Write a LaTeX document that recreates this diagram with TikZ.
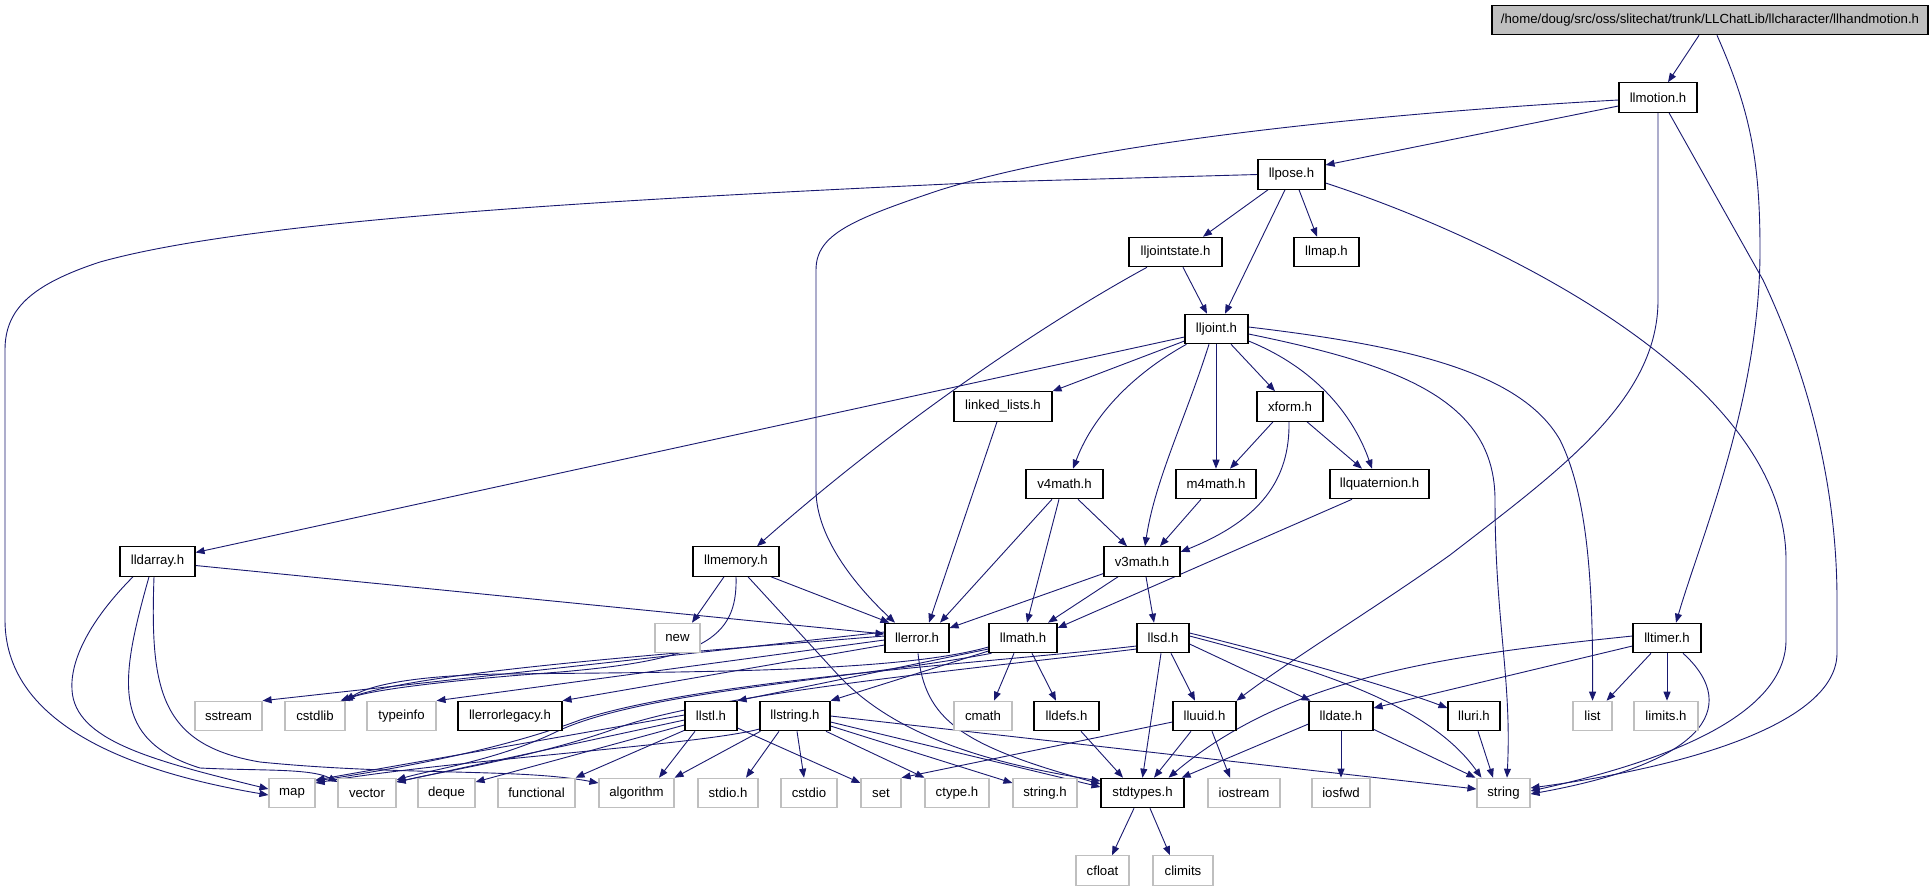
\documentclass[tikz,border=0pt]{standalone}
\usepackage{fontspec}
\setmainfont{Liberation Sans}
\usetikzlibrary{arrows.meta,calc}
\definecolor{edgec}{HTML}{191970}
\definecolor{grayb}{HTML}{BFBFBF}
\pgfdeclarelayer{bg}
\pgfsetlayers{bg,main}
\tikzset{
 basebox/.style={draw, inner sep=0pt, minimum height=29.5pt, font=\fontsize{13.2}{15}\selectfont, fill=white, line width=1.1pt},
 pbox/.style={basebox, draw=black},
 sbox/.style={basebox, draw=grayb},
 rootbox/.style={basebox, draw=black, fill=grayb},
 dep/.style={draw=edgec, line width=0.9pt, -{Triangle[length=9pt,width=7pt,fill=edgec]}},
}
\newcommand\mkn[5]{\node[#1, minimum width=#4pt] (#2) at (#3) {#5};}
\begin{document}
\begin{tikzpicture}[x=1pt,y=-1pt]
\useasboundingbox (0,0) rectangle (1932,891);
% nodes
\mkn{rootbox}{top}{1710,20}{436}{/home/doug/src/oss/slitechat/trunk/LLChatLib/llcharacter/llhandmotion.h}
\mkn{pbox}{llmotion}{1658,97.5}{78}{llmotion.h}
\mkn{pbox}{llpose}{1291.5,174.5}{67}{llpose.h}
\mkn{pbox}{lljointstate}{1175.5,252}{93}{lljointstate.h}
\mkn{pbox}{llmap}{1326.5,252}{65}{llmap.h}
\mkn{pbox}{lljoint}{1216.5,329}{63}{lljoint.h}
\mkn{pbox}{linked}{1003,406.5}{98}{linked\_lists.h}
\mkn{pbox}{xform}{1290,406.5}{66}{xform.h}
\mkn{pbox}{v4math}{1064.5,484}{77}{v4math.h}
\mkn{pbox}{m4math}{1216,484}{80}{m4math.h}
\mkn{pbox}{llquat}{1379.5,484}{99}{llquaternion.h}
\mkn{pbox}{lldarray}{157.5,561.5}{75}{lldarray.h}
\mkn{pbox}{llmemory}{736,561.5}{86}{llmemory.h}
\mkn{pbox}{v3math}{1142,561.5}{76}{v3math.h}
\mkn{pbox}{lltimer}{1667,638}{68}{lltimer.h}
\mkn{sbox}{new}{677.5,638}{45}{new}
\mkn{pbox}{llerror}{917,638}{64}{llerror.h}
\mkn{pbox}{llmath}{1023,638}{68}{llmath.h}
\mkn{pbox}{llsd}{1163,638}{52}{llsd.h}
\mkn{sbox}{sstream}{228.5,716}{67}{sstream}
\mkn{sbox}{cstdlib}{315,716}{60}{cstdlib}
\mkn{sbox}{typeinfo}{401.5,716}{69}{typeinfo}
\mkn{pbox}{llerrorlegacy}{510,716}{104}{llerrorlegacy.h}
\mkn{pbox}{llstl}{711,716}{52}{llstl.h}
\mkn{pbox}{llstring}{795,716}{70}{llstring.h}
\mkn{sbox}{cmath}{983,716}{58}{cmath}
\mkn{pbox}{lldefs}{1066.5,716}{65}{lldefs.h}
\mkn{pbox}{lluuid}{1204.5,716}{63}{lluuid.h}
\mkn{pbox}{lldate}{1341,716}{64}{lldate.h}
\mkn{pbox}{lluri}{1474,716}{52}{lluri.h}
\mkn{sbox}{list}{1592.5,716}{39}{list}
\mkn{sbox}{limits}{1666,716}{64}{limits.h}
\mkn{sbox}{map}{292,793}{46}{map}
\mkn{sbox}{vector}{367,793}{58}{vector}
\mkn{sbox}{deque}{446.5,793}{57}{deque}
\mkn{sbox}{functional}{536.5,793}{77}{functional}
\mkn{sbox}{algorithm}{636.5,793}{75}{algorithm}
\mkn{sbox}{stdio}{728,793}{60}{stdio.h}
\mkn{sbox}{cstdio}{809,793}{56}{cstdio}
\mkn{sbox}{set}{881,793}{40}{set}
\mkn{sbox}{ctype}{957,793}{64}{ctype.h}
\mkn{sbox}{stringh}{1045,793}{64}{string.h}
\mkn{pbox}{stdtypes}{1142.5,793}{83}{stdtypes.h}
\mkn{sbox}{iostream}{1244,793}{72}{iostream}
\mkn{sbox}{iosfwd}{1341,793}{58}{iosfwd}
\mkn{sbox}{string}{1503.5,793}{53}{string}
\mkn{sbox}{cfloat}{1102.5,870.5}{53}{cfloat}
\mkn{sbox}{climits}{1183,870.5}{60}{climits}
\begin{pgfonlayer}{bg}
\fill[white] (0,0) rectangle (1932,891);
% top
\draw[dep] ($(top.south)+(-11,0)$) -- ($(llmotion.north)+(10,0)$);
\draw[dep] ($(top.south)+(7,0)$) .. controls (1750,110) and (1760,160) .. (1760,250) .. controls (1760,400) and (1700,540) .. ($(lltimer.north)+(9,0)$);
% llmotion
\draw[dep] ($(llmotion.west)+(0,8.5)$) -- ($(llpose.east)+(0,-9.5)$);
\draw[dep] ($(llmotion.west)+(0,2.5)$) .. controls (1400,112) and (1100,140) .. (940,190) .. controls (850,220) and (816,235) .. (816,270) -- (816,490) .. controls (816,540) and (860,590) .. ($(llerror.north)+(-22,0)$);
\draw[dep] (llmotion.south) -- (1658,300) .. controls (1658,400) and (1560,470) .. (1450,555) .. controls (1380,605) and (1290,660) .. (lluuid.north east);
\draw[dep] ($(llmotion.south)+(11,0)$) -- (1763,280) .. controls (1815,390) and (1837,500) .. (1837,600) -- (1837,653) .. controls (1837,720) and (1700,765) .. ($(string.east)+(0,-5)$);
% llpose
\draw[dep] ($(llpose.south)+(-23.5,0)$) -- ($(lljointstate.north)+(27.5,0)$);
\draw[dep] ($(llpose.south)+(-6.5,0)$) -- ($(lljoint.north)+(8.5,0)$);
\draw[dep] ($(llpose.south)+(7.5,0)$) -- ($(llmap.north)+(-9.5,0)$);
\draw[dep] (llpose.west) -- (992,182) .. controls (600,200) and (250,220) .. (100,262) .. controls (30,285) and (5,310) .. (5,350) -- (5,620) .. controls (5,720) and (120,770) .. ($(map.west)+(0,2)$);
\draw[dep] ($(llpose.east)+(0,8.5)$) .. controls (1500,240) and (1786,380) .. (1786,560) -- (1786,640) .. controls (1786,720) and (1650,765) .. ($(string.east)+(0,-2)$);
% lljointstate
\draw[dep] ($(lljointstate.south)+(7.5,0)$) -- ($(lljoint.north)+(-9.5,0)$);
\draw[dep] ($(lljointstate.south)+(-28.5,0)$) .. controls (1050,320) and (900,420) .. ($(llmemory.north)+(21,0)$);
% lljoint
\draw[dep] ($(lljoint.west)+(0,8)$) -- ($(lldarray.east)+(0,-9)$);
\draw[dep] ($(lljoint.west)+(0,12)$) -- (linked.north east);
\draw[dep] ($(lljoint.south west)+(2,0)$) .. controls (1140,370) and (1095,410) .. ($(v4math.north)+(8.5,0)$);
\draw[dep] ($(lljoint.south)+(-7.5,0)$) .. controls (1185,420) and (1155,480) .. ($(v3math.north)+(3,0)$);
\draw[dep] ($(lljoint.south)+(-0.5,0)$) -- (m4math.north);
\draw[dep] ($(lljoint.south)+(14.5,0)$) -- ($(xform.north)+(-15,0)$);
\draw[dep] ($(lljoint.east)+(0,12)$) .. controls (1320,370) and (1355,420) .. ($(llquat.north)+(-7.5,0)$);
\draw[dep] ($(lljoint.east)+(0,-2)$) .. controls (1400,345) and (1520,370) .. (1560,440) .. controls (1590,500) and (1593,600) .. (list.north);
\draw[dep] ($(lljoint.east)+(0,5)$) .. controls (1400,365) and (1495,400) .. (1495,500) .. controls (1495,620) and (1512,680) .. ($(string.north)+(3.5,0)$);
% xform
\draw[dep] ($(xform.south)+(-17,0)$) -- ($(m4math.north)+(14,0)$);
\draw[dep] ($(xform.south)+(17,0)$) -- ($(llquat.north)+(-17.5,0)$);
\draw[dep] ($(xform.south)+(-1,0)$) .. controls (1290,480) and (1260,520) .. ($(v3math.east)+(0,-9.5)$);
% v4math, m4math, llquaternion
\draw[dep] ($(v4math.south)+(13.5,0)$) -- ($(v3math.north)+(-15,0)$);
\draw[dep] ($(v4math.south)+(-5.5,0)$) -- ($(llmath.north)+(4,0)$);
\draw[dep] ($(v4math.south)+(-12.5,0)$) -- ($(llerror.north)+(23,0)$);
\draw[dep] ($(m4math.south)+(-15,0)$) -- ($(v3math.north)+(18,0)$);
\draw[dep] ($(llquat.south)+(-27.5,0)$) -- ($(llmath.east)+(0,-10)$);
% v3math
\draw[dep] ($(v3math.west)+(0,12)$) -- ($(llerror.east)+(0,-10)$);
\draw[dep] ($(v3math.south)+(-24,0)$) -- ($(llmath.north)+(25,0)$);
\draw[dep] ($(v3math.south)+(4,0)$) -- ($(llsd.north)+(-9,0)$);
% linked_lists
\draw[dep] ($(linked.south)+(-6,0)$) -- ($(llerror.north)+(12,0)$);
% llmemory
\draw[dep] ($(llmemory.south)+(-12,0)$) -- ($(new.north)+(14.5,0)$);
\draw[dep] ($(llmemory.south)+(35,0)$) -- ($(llerror.north west)+(5,0)$);
\draw[dep] (llmemory.south) .. controls (738,640) and (700,660) .. (560,672) .. controls (450,680) and (370,690) .. ($(cstdlib.north east)+(-2,0)$);
\draw[dep] ($(llmemory.south)+(12,0)$) -- (840,677) .. controls (900,740) and (1000,765) .. ($(stdtypes.west)+(0,-12)$);
% lldarray
\draw[dep] ($(lldarray.east)+(0,4)$) -- ($(llerror.west)+(0,-4)$);
\draw[dep] ($(lldarray.south)+(-24.5,0)$) .. controls (90,620) and (70,660) .. (72,690) .. controls (75,740) and (150,760) .. ($(map.west)+(0,-4)$);
\draw[dep] ($(lldarray.south)+(-8.5,0)$) .. controls (120,680) and (110,740) .. (200,768) .. controls (260,771) and (310,768) .. ($(vector.west)+(0,-11)$);
\draw[dep] ($(lldarray.south)+(-3.5,0)$) .. controls (150,690) and (160,745) .. (260,762) .. controls (400,776) and (520,768) .. ($(algorithm.west)+(0,-10)$);
% llerror
\draw[dep] ($(llerror.west)+(0,-6)$) -- (sstream.north east);
\draw[dep] ($(llerror.west)+(0,-2)$) .. controls (650,655) and (420,672) .. ($(cstdlib.north east)+(-5,0)$);
\draw[dep] ($(llerror.west)+(0,2)$) -- (typeinfo.north east);
\draw[dep] ($(llerror.west)+(0,7)$) -- (llerrorlegacy.north east);
\draw[dep] ($(llerror.south)+(1,0)$) .. controls (925,720) and (960,745) .. ($(stdtypes.west)+(0,-9)$);
% llmath
\draw[dep] ($(llmath.south)+(-9,0)$) -- ($(cmath.north)+(11,0)$);
\draw[dep] ($(llmath.south)+(9,0)$) -- ($(lldefs.north)+(-10.5,0)$);
\draw[dep] ($(llmath.west)+(0,9)$) .. controls (900,672) and (700,672) .. (500,674) .. controls (400,676) and (365,688) .. (cstdlib.north east);
\draw[dep] ($(llmath.west)+(0,11)$) -- (llstl.north east);
\draw[dep] ($(llmath.west)+(0,13)$) -- (llstring.north east);
\draw[dep] ($(llmath.south west)+(3,0)$) .. controls (850,680) and (650,690) .. (560,730) .. controls (500,760) and (430,770) .. ($(vector.east)+(0,-13)$);
% llsd
\draw[dep] ($(llsd.south)+(-2,0)$) -- (stdtypes.north);
\draw[dep] ($(llsd.south)+(8,0)$) -- ($(lluuid.north)+(-9.5,0)$);
\draw[dep] ($(llsd.east)+(0,6)$) -- ($(lldate.north west)+(2,0)$);
\draw[dep] ($(llsd.east)+(0,-5)$) .. controls (1300,660) and (1400,690) .. ($(lluri.west)+(0,-8)$);
\draw[dep] ($(llsd.east)+(0,-2)$) .. controls (1320,670) and (1430,705) .. ($(string.north west)+(5,0)$);
\draw[dep] ($(llsd.west)+(0,8)$) .. controls (1000,662) and (700,680) .. (580,720) .. controls (500,750) and (400,768) .. ($(map.east)+(0,-12)$);
\draw[dep] ($(llsd.west)+(0,11)$) .. controls (1000,666) and (720,692) .. (620,727) .. controls (540,756) and (450,770) .. ($(vector.east)+(0,-11)$);
% llstl
\draw[dep] ($(llstl.west)+(0,-1)$) -- ($(map.east)+(0,-13)$);
\draw[dep] ($(llstl.west)+(0,4)$) -- ($(vector.east)+(0,-11)$);
\draw[dep] ($(llstl.west)+(0,9)$) -- ($(deque.east)+(0,-11)$);
\draw[dep] ($(llstl.south west)+(0,-1)$) -- (functional.north east);
\draw[dep] ($(llstl.south)+(-16,0)$) -- ($(algorithm.north)+(22.5,0)$);
\draw[dep] ($(llstl.east)+(0,12)$) -- ($(set.west)+(0,-10)$);
% llstring
\draw[dep] ($(llstring.south west)+(1,0)$) -- (algorithm.north east);
\draw[dep] ($(llstring.west)+(0,13)$) .. controls (700,745) and (450,760) .. ($(map.east)+(0,-10)$);
\draw[dep] ($(llstring.south)+(-16,0)$) -- ($(stdio.north)+(18,0)$);
\draw[dep] ($(llstring.south)+(2,0)$) -- ($(cstdio.north)+(-5,0)$);
\draw[dep] ($(llstring.south)+(31,0)$) -- (ctype.north west);
\draw[dep] ($(llstring.east)+(0,10)$) -- ($(stringh.west)+(0,-10)$);
\draw[dep] ($(llstring.east)+(0,6)$) -- ($(stdtypes.west)+(0,-6)$);
\draw[dep] ($(llstring.east)+(0,0)$) -- ($(string.west)+(0,-4)$);
% lluuid, lldefs
\draw[dep] ($(lluuid.south)+(-13.5,0)$) -- ($(stdtypes.north)+(11.5,0)$);
\draw[dep] ($(lluuid.south)+(7.5,0)$) -- ($(iostream.north)+(-14,0)$);
\draw[dep] ($(lluuid.west)+(0,6)$) -- (set.north east);
\draw[dep] ($(lldefs.south)+(14.5,0)$) -- ($(stdtypes.north)+(-19.5,0)$);
% lldate, lluri
\draw[dep] (lldate.south) -- (iosfwd.north);
\draw[dep] ($(lldate.west)+(0,8)$) -- ($(stdtypes.north east)+(-3,0)$);
\draw[dep] ($(lldate.south east)+(0,-2)$) -- ($(string.north west)+(-1,0)$);
\draw[dep] ($(lluri.south)+(4,0)$) -- ($(string.north)+(-10.5,0)$);
% lltimer
\draw[dep] ($(lltimer.south)+(-16,0)$) -- ($(list.north east)+(-6,0)$);
\draw[dep] (lltimer.south) -- ($(limits.north)+(1,0)$);
\draw[dep] ($(lltimer.south)+(16,0)$) .. controls (1735,700) and (1720,760) .. ($(string.east)+(0,1)$);
\draw[dep] ($(lltimer.west)+(0,8)$) -- ($(lldate.east)+(0,-8)$);
\draw[dep] ($(lltimer.west)+(0,-2)$) .. controls (1450,655) and (1290,675) .. ($(stdtypes.north)+(26,0)$);
% stdtypes
\draw[dep] ($(stdtypes.south)+(-8.5,0)$) -- ($(cfloat.north)+(9.5,0)$);
\draw[dep] ($(stdtypes.south)+(7.5,0)$) -- ($(climits.north)+(-13,0)$);
\end{pgfonlayer}
\end{tikzpicture}
\end{document}
